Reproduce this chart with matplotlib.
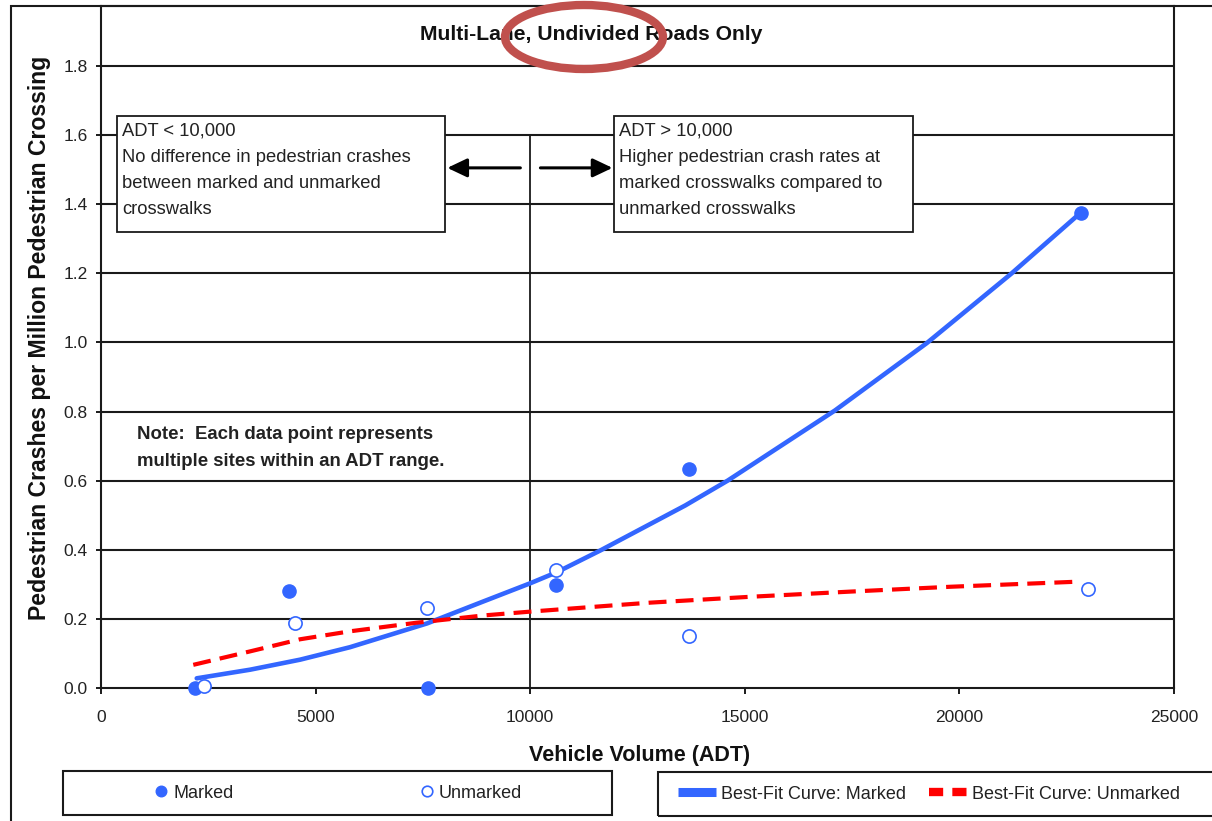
import matplotlib
matplotlib.use("Agg")
import matplotlib.pyplot as plt
from matplotlib.patches import Rectangle, Ellipse

# ---------------- data ----------------
marked_x = [2200, 4370, 7630, 10610, 13700, 22830]
marked_y = [0.00, 0.282, 0.00, 0.298, 0.633, 1.375]
unmarked_x = [2390, 4510, 7600, 10610, 13710, 22990]
unmarked_y = [0.006, 0.189, 0.232, 0.341, 0.151, 0.287]

fit_marked_x = [2230, 3475, 4640, 5800, 7600, 8900, 10000, 10620, 11650,
                13610, 14600, 17100, 19240, 21210, 22860]
fit_marked_y = [0.028, 0.053, 0.082, 0.118, 0.187, 0.250, 0.303, 0.335, 0.399,
                0.528, 0.600, 0.803, 0.998, 1.199, 1.379]
fit_unmarked_x = [2150, 3475, 4640, 5800, 7360, 8920, 10000, 12030, 12800,
                  15135, 17470, 19800, 22830]
fit_unmarked_y = [0.067, 0.106, 0.141, 0.164, 0.189, 0.210, 0.221, 0.240, 0.247,
                  0.264, 0.279, 0.293, 0.308]

x_ticks = [0, 5000, 10000, 15000, 20000, 25000]
x_tick_labels = ["0", "5000", "10000", "15000", "20000", "25000"]
y_ticks = [0.0, 0.2, 0.4, 0.6, 0.8, 1.0, 1.2, 1.4, 1.6, 1.8]
y_tick_labels = ["0.0", "0.2", "0.4", "0.6", "0.8", "1.0", "1.2", "1.4", "1.6", "1.8"]

title = "Multi-Lane, Undivided Roads Only"
x_label = "Vehicle Volume (ADT)"
y_label = "Pedestrian Crashes per Million Pedestrian Crossing"
left_box_text = ("ADT < 10,000\nNo difference in pedestrian crashes\n"
                 "between marked and unmarked\ncrosswalks")
right_box_text = ("ADT > 10,000\nHigher pedestrian crash rates at\n"
                  "marked crosswalks compared to\nunmarked crosswalks")
note_text = "Note:  Each data point represents\nmultiple sites within an ADT range."
legend1_labels = ["Marked", "Unmarked"]
legend2_labels = ["Best-Fit Curve: Marked", "Best-Fit Curve: Unmarked"]

# ---------------- style ----------------
plt.rcParams['font.family'] = ['Liberation Sans', 'DejaVu Sans']
BLUE = '#3366FF'
RED = '#FF0000'
DARK = '#1a1a1a'
TXT = '#222222'
W, H = 1212, 821
fig = plt.figure(figsize=(W / 100, H / 100), dpi=100)
fig.patch.set_facecolor('white')

ax = fig.add_axes([101 / W, 1 - 688 / H, (1174 - 101) / W, (688 - 6) / H])
ax.set_xlim(0, 25000)
ax.set_ylim(0, 682 / 345.6)

for s in ax.spines.values():
    s.set_linewidth(1.5)
    s.set_color(DARK)

ax.set_xticks(x_ticks)
ax.set_xticklabels(x_tick_labels)
ax.set_yticks(y_ticks)
ax.set_yticklabels(y_tick_labels)
ax.tick_params(axis='both', direction='out', width=1.4, color=DARK,
               labelsize=12.5, labelcolor=TXT)
ax.tick_params(axis='x', length=4.5, pad=11)
ax.tick_params(axis='y', length=3.8, pad=6)

for yv in y_ticks[1:]:
    ax.axhline(yv, color=DARK, lw=1.5, zorder=1)

ax.vlines(10000, 0, 1.6, color=DARK, lw=1.3, zorder=1)

# annotation boxes
ax.add_patch(Rectangle((373, 1.319), 8015 - 373, 1.655 - 1.319, facecolor='white',
                       edgecolor=DARK, lw=1.3, zorder=2))
ax.add_patch(Rectangle((11953, 1.319), 18919 - 11953, 1.655 - 1.319, facecolor='white',
                       edgecolor=DARK, lw=1.3, zorder=2))
ax.text(489, 1.636, left_box_text, fontsize=13.2, color=TXT, va='top', ha='left',
        linespacing=1.71, zorder=3)
ax.text(12069, 1.636, right_box_text, fontsize=13.2, color=TXT, va='top', ha='left',
        linespacing=1.71, zorder=3)

# arrows
arrow_kw = dict(arrowstyle='-|>,head_length=0.8,head_width=0.38', color='black',
                lw=2.2, mutation_scale=15, shrinkA=0, shrinkB=0)
ax.annotate('', xy=(8069, 1.505), xytext=(9771, 1.505), arrowprops=arrow_kw, zorder=3)
ax.annotate('', xy=(11917, 1.505), xytext=(10238, 1.505), arrowprops=arrow_kw, zorder=3)

ax.text(839, 0.758, note_text, fontsize=13.4, fontweight='bold', color=TXT,
        va='top', ha='left', linespacing=1.78)

# curves & points
line_m, = ax.plot(fit_marked_x, fit_marked_y, color=BLUE, lw=3.3,
                  solid_capstyle='round', solid_joinstyle='round', zorder=4)
line_u, = ax.plot(fit_unmarked_x, fit_unmarked_y, color=RED, lw=3.0,
                  dashes=(4.3, 2.2), zorder=4)
pts_m, = ax.plot(marked_x, marked_y, 'o', color=BLUE, ms=9.5, mec=BLUE, ls='none',
                 zorder=5, clip_on=False)
pts_u, = ax.plot(unmarked_x, unmarked_y, 'o', mfc='white', mec=BLUE, mew=1.2, ms=9.5,
                 ls='none', zorder=5, clip_on=False)

ax.set_xlabel(x_label, fontsize=15.5, fontweight='bold', color='#111111')
ax.set_ylabel(y_label, fontsize=16.6, fontweight='bold', color='#111111')
ax.xaxis.set_label_coords((640 - 101) / 1073, (688 - 755) / 682)
ax.yaxis.set_label_coords((40 - 101) / 1073, (688 - 338) / 682)
ax.xaxis.label.set_va('center')
ax.yaxis.label.set_va('center')

# title and highlight ellipse
fig.text(591 / W, 1 - 40 / H, title, fontsize=15.2, fontweight='bold',
         ha='center', va='baseline', color='#111111')
fig.add_artist(Ellipse((584 / 100, (H - 37) / 100), 1.58, 0.64, fill=False,
                       edgecolor='#C0504D', lw=6, transform=fig.dpi_scale_trans,
                       zorder=10))

# outer chart border
fig.add_artist(Rectangle((11 / 100, -0.5), 14, (H - 6) / 100 + 0.5, fill=False,
                         edgecolor=DARK, lw=1.5, transform=fig.dpi_scale_trans))

# legend frames
fig.add_artist(Rectangle((63 / 100, (H - 815) / 100), 5.49, 0.44, fill=False,
                         edgecolor=DARK, lw=1.5, transform=fig.dpi_scale_trans))
fig.add_artist(Rectangle((658 / 100, (H - 816) / 100), 6.0, 0.44, fill=False,
                         edgecolor=DARK, lw=1.5, transform=fig.dpi_scale_trans))

leg1 = fig.legend([pts_m, pts_u], legend1_labels, ncol=2, loc='center',
                  bbox_to_anchor=(339 / W, 1 - 793 / H), frameon=False,
                  markerscale=0.8, handlelength=0.6, handletextpad=0.37,
                  columnspacing=10.4, fontsize=13)
leg2 = fig.legend([line_m, line_u], legend2_labels, ncol=2, loc='center',
                  bbox_to_anchor=(929 / W, 1 - 794 / H), frameon=False,
                  handlelength=2.1, handletextpad=0.3, columnspacing=1.25,
                  fontsize=13)
for t in leg1.get_texts() + leg2.get_texts():
    t.set_color(TXT)
lg = leg2.get_lines()
lg[0].set_linewidth(6.5)
lg[0].set_solid_capstyle('butt')
lg[1].set_linewidth(6)
lg[1].set_dashes((1.7, 1.1))
lg[1].set_dash_capstyle('butt')

fig.savefig('out.png', dpi=100, facecolor='white')
